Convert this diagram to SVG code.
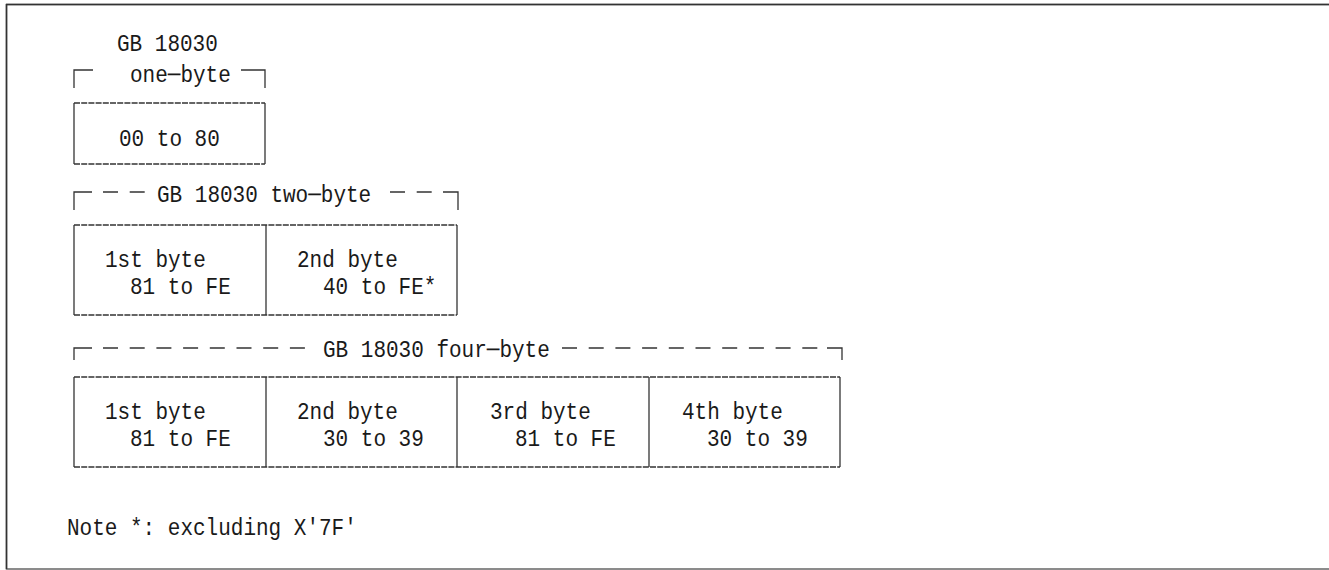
<svg xmlns="http://www.w3.org/2000/svg" width="1329" height="570" viewBox="0 0 1329 570">
<style>
text{font-family:"Liberation Mono","DejaVu Sans Mono",monospace;font-size:24.5px;fill:#1a1a1a}
.br{fill:none;stroke:#333;stroke-width:1.3}
.dl{fill:none;stroke:#333;stroke-width:1.3;stroke-dasharray:15 11.7}
.eh{stroke:#333;stroke-width:1.3;stroke-dasharray:6 1.2}
.ev{stroke:#333;stroke-width:1.3}
</style>
<rect x="6.5" y="4.5" width="1340" height="564.5" fill="#fff" stroke="#666" stroke-width="1.5"/>
<line x1="6" y1="4.5" x2="1329" y2="4.5" stroke="#333" stroke-width="1.5"/>
<line x1="6.5" y1="4" x2="6.5" y2="569" stroke="#333" stroke-width="1.5"/>
<g id="one-byte">
<text x="117" y="51" textLength="100.8" lengthAdjust="spacingAndGlyphs">GB 18030</text>
<path class="br" d="M74,88V70H93"/>
<text x="130" y="82" textLength="100.8" lengthAdjust="spacingAndGlyphs">one─byte</text>
<path class="br" d="M241,70H265V88"/>
<line class="eh" x1="74" y1="103" x2="265" y2="103"/>
<line class="eh" x1="74" y1="164" x2="265" y2="164"/>
<line class="ev" x1="74" y1="103" x2="74" y2="164"/>
<line class="ev" x1="265" y1="103" x2="265" y2="164"/>
<text x="119" y="146" textLength="100.8" lengthAdjust="spacingAndGlyphs">00 to 80</text>
</g>
<g id="two-byte">
<path class="br" d="M74,210V192H92"/>
<line class="dl" x1="103" y1="192" x2="145" y2="192"/>
<text x="157" y="202" textLength="214.2" lengthAdjust="spacingAndGlyphs">GB 18030 two─byte</text>
<line class="dl" x1="390" y1="192" x2="432" y2="192"/>
<path class="br" d="M443,192H458V210"/>
<line class="eh" x1="74" y1="225" x2="457" y2="225"/>
<line class="eh" x1="74" y1="315" x2="457" y2="315"/>
<line class="ev" x1="74" y1="225" x2="74" y2="315"/>
<line class="ev" x1="266" y1="225" x2="266" y2="315"/>
<line class="ev" x1="457" y1="225" x2="457" y2="315"/>
<text x="105" y="267" textLength="100.8" lengthAdjust="spacingAndGlyphs">1st byte</text>
<text x="130" y="294" textLength="100.8" lengthAdjust="spacingAndGlyphs">81 to FE</text>
<text x="297" y="267" textLength="100.8" lengthAdjust="spacingAndGlyphs">2nd byte</text>
<text x="323" y="294" textLength="113.4" lengthAdjust="spacingAndGlyphs">40 to FE*</text>
</g>
<g id="four-byte">
<path class="br" d="M74,360V348H92"/>
<line class="dl" x1="103" y1="348" x2="305" y2="348"/>
<text x="323" y="357" textLength="226.8" lengthAdjust="spacingAndGlyphs">GB 18030 four─byte</text>
<line class="dl" x1="562" y1="348" x2="820" y2="348"/>
<path class="br" d="M827,348H842V360"/>
<line class="eh" x1="74" y1="377" x2="840" y2="377"/>
<line class="eh" x1="74" y1="467" x2="840" y2="467"/>
<line class="ev" x1="74" y1="377" x2="74" y2="467"/>
<line class="ev" x1="266" y1="377" x2="266" y2="467"/>
<line class="ev" x1="457" y1="377" x2="457" y2="467"/>
<line class="ev" x1="649" y1="377" x2="649" y2="467"/>
<line class="ev" x1="840" y1="377" x2="840" y2="467"/>
<text x="105" y="419" textLength="100.8" lengthAdjust="spacingAndGlyphs">1st byte</text>
<text x="130" y="446" textLength="100.8" lengthAdjust="spacingAndGlyphs">81 to FE</text>
<text x="297" y="419" textLength="100.8" lengthAdjust="spacingAndGlyphs">2nd byte</text>
<text x="323" y="446" textLength="100.8" lengthAdjust="spacingAndGlyphs">30 to 39</text>
<text x="490" y="419" textLength="100.8" lengthAdjust="spacingAndGlyphs">3rd byte</text>
<text x="515" y="446" textLength="100.8" lengthAdjust="spacingAndGlyphs">81 to FE</text>
<text x="682" y="419" textLength="100.8" lengthAdjust="spacingAndGlyphs">4th byte</text>
<text x="707" y="446" textLength="100.8" lengthAdjust="spacingAndGlyphs">30 to 39</text>
</g>
<g id="note">
<text x="67" y="535" textLength="289.8" lengthAdjust="spacingAndGlyphs">Note *: excluding X'7F'</text>
</g>
<g id="connectors"/>
</svg>
